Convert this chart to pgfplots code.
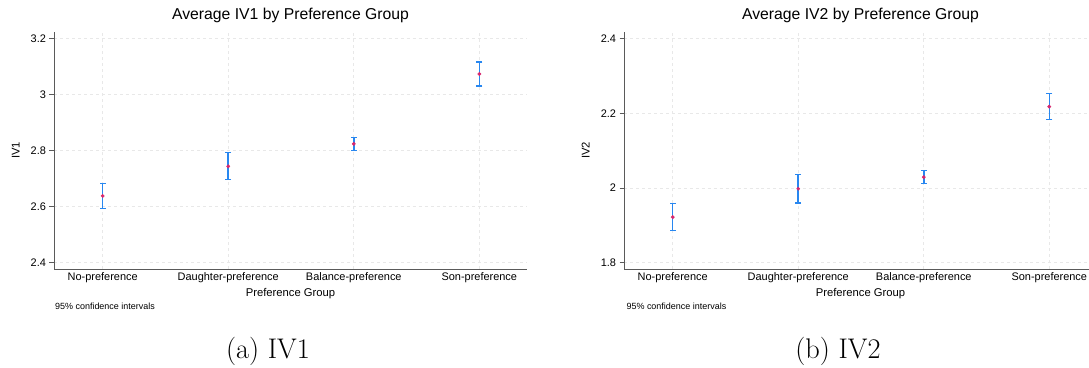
\documentclass[border=0pt]{standalone}
\usepackage{pgfplots}
\pgfplotsset{compat=1.18}
\usepackage{fontspec}
\newfontfamily\arial{Liberation Sans}
\definecolor{mk}{RGB}{214,40,110}
\definecolor{eb}{RGB}{40,135,240}
\definecolor{gridc}{RGB}{232,232,232}
\definecolor{axc}{RGB}{90,90,90}

\pgfplotsset{
  statastyle/.style={
    scale only axis, width=473bp, height=237bp,
    clip=false,
    axis x line*=bottom, axis y line*=left,
    axis line style={axc, line width=0.8pt, -},
    xmin=-0.388, xmax=3.38,
    xtick={0,1,2,3},
    xticklabels={No-preference,Daughter-preference,Balance-preference,Son-preference},
    x tick style={draw=none},
    y tick style={axc, line width=0.6pt},
    tick align=outside, major tick length=4.5bp,
    grid=major,
    major grid style={gridc, dashed, line width=0.6pt},
    /pgf/number format/assume math mode=true,
    ticklabel style={font=\arial\fontsize{11}{13}\selectfont},
    xticklabel style={anchor=base, yshift=-7bp},
    yticklabel style={anchor=east},
    title style={font=\arial\fontsize{15.8}{18}\selectfont, at={(axis description cs:0.5,1.0)}, anchor=base, yshift=7bp},
    xlabel style={font=\arial\fontsize{11.3}{13}\selectfont, at={(axis description cs:0.5,-0.104)}, anchor=center},
    ylabel style={font=\arial\fontsize{11.3}{13}\selectfont, at={(axis description cs:-0.081,0.5)}, anchor=center},
    xlabel={Preference Group},
  },
  cibar/.style={
    draw=eb, line width=1.5pt, mark=-, mark size=3bp,
    mark options={draw=eb, line width=1.2pt, solid},
  },
  mkplot/.style={
    only marks, mark=*, mark size=1.7bp,
    mark options={fill=mk, draw=mk},
  },
}

\begin{document}
\begin{tikzpicture}
\useasboundingbox (0,0) rectangle (1089bp,368bp);
\begin{axis}[statastyle, at={(54bp,99bp)}, anchor=south west,
  ymin=2.377, ymax=3.224, ytick={2.4,2.6,2.8,3,3.2},
  title={Average IV1 by Preference Group}, ylabel={IV1}]
% 95% confidence intervals (lower, upper)
\addplot[cibar] coordinates {(0,2.592) (0,2.684)};
\addplot[cibar] coordinates {(1,2.696) (1,2.792)};
\addplot[cibar] coordinates {(2,2.801) (2,2.848)};
\addplot[cibar] coordinates {(3,3.031) (3,3.117)};
% means
\addplot[mkplot] coordinates {(0,2.638) (1,2.744) (2,2.824) (3,3.074)};
\node[anchor=west, inner sep=0pt, font=\arial\fontsize{9}{10}\selectfont] at (axis description cs:0.002,-0.159) {95\% confidence intervals};
\end{axis}
\begin{axis}[statastyle, at={(624bp,99bp)}, anchor=south west,
  ymin=1.783, ymax=2.418, ytick={1.8,2,2.2,2.4},
  title={Average IV2 by Preference Group}, ylabel={IV2}]
\addplot[cibar] coordinates {(0,1.887) (0,1.958)};
\addplot[cibar] coordinates {(1,1.960) (1,2.037)};
\addplot[cibar] coordinates {(2,2.011) (2,2.047)};
\addplot[cibar] coordinates {(3,2.183) (3,2.253)};
\addplot[mkplot] coordinates {(0,1.922) (1,1.998) (2,2.029) (3,2.218)};
\node[anchor=west, inner sep=0pt, font=\arial\fontsize{9}{10}\selectfont] at (axis description cs:0.005,-0.159) {95\% confidence intervals};
\end{axis}
\node[anchor=base, font=\fontsize{28.5}{32}\selectfont] at (268bp,10bp) {(a) IV1};
\node[anchor=base, font=\fontsize{28.5}{32}\selectfont] at (838bp,10bp) {(b) IV2};
\end{tikzpicture}
\end{document}
